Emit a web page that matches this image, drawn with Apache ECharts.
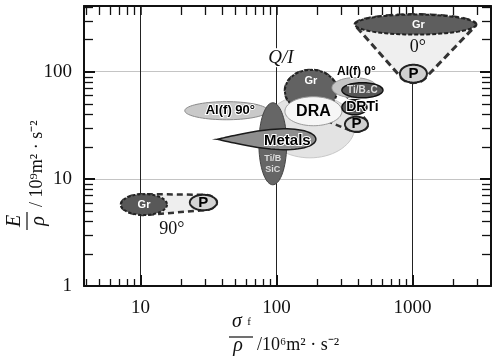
<!DOCTYPE html>
<html>
<head>
<meta charset="utf-8">
<script src="https://cdn.jsdelivr.net/npm/echarts@6/dist/echarts.min.js"></script>
<style>
  html, body { margin: 0; padding: 0; background: #fff; }
  #chart { width: 499px; height: 363px; }
</style>
</head>
<body>
<div id="chart"></div>
<script>
// axis extents: specific strength (x) and specific stiffness (y)
const xMin = 3.85, xMax = 3780;
const yMin = 1, yMax = 410;

const xMinorTicks = [4, 5, 6, 7, 8, 9, 20, 30, 40, 50, 60, 70, 80, 90, 200, 300, 400, 500, 600, 700, 800, 900, 2000, 3000];
const yMinorTicks = [2, 3, 4, 5, 6, 7, 8, 9, 20, 30, 40, 50, 60, 70, 80, 90, 200, 300, 400];

// material families, in drawing order
const familyNames  = ['Gr', 'P', 'Al(f) 90°', '', 'Gr', 'DRA', 'Al(f) 0°', 'Ti/B₄C', 'DRTi', 'P', 'Ti/B\nSiC', 'Metals', 'Gr', 'P'];
const strengthLow  = [7.2, 23.1, 21.2, 82.3, 115.5, 115.5, 256, 303, 303, 319, 74.3, 36.5, 378, 809];
const strengthHigh = [15.7, 36.5, 86.6, 378, 279, 303, 548, 607, 463, 471, 119, 195, 2930, 1278];
const stiffLow     = [4.6, 5.1, 35.6, 15.7, 42.3, 31.3, 57.1, 57.1, 39.6, 27.5, 8.8, 18.7, 222, 79];
const stiffHigh    = [7.2, 7.1, 52.5, 61, 104, 58.4, 87.9, 78.9, 54.7, 38, 51.3, 29.3, 341, 116];

// dashed envelopes around fibre-direction families (member indices)
const hullGroups = [[0, 1], [4, 9], [12, 13]];

// text notes on the chart
const noteTexts = ['Q/I', '0°', '90°'];
const noteX = [108, 1097, 17];
const noteY = [135, 168, 3.41];

const serif = "'Liberation Serif', 'Times New Roman', serif";
const sans = "'Liberation Sans', Arial, sans-serif";

const familyStyles = [
  { fill: '#585858', stroke: '#222', lw: 2, dash: [3, 2], color: '#fff', font: 'bold 11px' },
  { fill: '#d4d4d4', stroke: '#222', lw: 2, color: '#000', font: 'bold 15px' },
  { fill: '#c9c9c9', stroke: '#8a8a8a', lw: 1, color: '#000', font: 'bold 13px', dx: 4, halo: true },
  { fill: '#e3e3e3', stroke: '#c8c8c8', lw: 1 },
  { fill: '#626262', stroke: '#222', lw: 2, dash: [3, 2], color: '#fff', font: 'bold 11px', dy: -10 },
  { fill: '#f6f6f6', stroke: '#9a9a9a', lw: 1, color: '#000', font: 'bold 16px' },
  { fill: '#c6c6c6', stroke: '#999', lw: 1, color: '#000', font: 'bold 12px', dx: 2, dy: -16, halo: true },
  { fill: '#555', stroke: '#111', lw: 1.5, color: '#ddd', font: 'bold 10px' },
  { fill: '#5a5a5a', stroke: '#111', lw: 1.5, color: '#000', font: 'bold 14px', dx: 8, halo: true },
  { fill: '#cfcfcf', stroke: '#222', lw: 2, color: '#000', font: 'bold 15px' },
  { fill: '#666', stroke: '#444', lw: 1, color: '#ddd', font: 'bold 9px', dy: 20 },
  { fill: '#8e8e8e', stroke: '#1a1a1a', lw: 1.5, color: '#000', font: 'bold 15px', dx: 21, dy: 2, halo: true, shape: 'tear' },
  { fill: '#5e5e5e', stroke: '#222', lw: 2, dash: [4, 2], color: '#fff', font: 'bold 11px', dx: 3 },
  { fill: '#d0d0d0', stroke: '#222', lw: 2, color: '#000', font: 'bold 15px' },
];
const hullStyles = [
  { fill: '#eeeeee', stroke: '#333', lw: 2.5, dash: [6, 4] },
  { fill: 'none', stroke: '#333', lw: 2.5, dash: [6, 4] },
  { fill: '#efefef', stroke: '#333', lw: 3, dash: [7, 4] },
];
const noteFonts = ['italic 19px', '18px', '18px'];

function isPow10(v) {
  const l = Math.log10(v);
  return Math.abs(l - Math.round(l)) < 1e-6;
}

// every hull goes just before its first member
const drawList = [];
familyNames.forEach((n, i) => {
  hullGroups.forEach((g, h) => { if (g[0] === i) drawList.push({ kind: 'hull', idx: h }); });
  drawList.push({ kind: 'bubble', idx: i });
});

function pixelBox(api, i) {
  const a = api.coord([strengthLow[i], stiffHigh[i]]);
  const b = api.coord([strengthHigh[i], stiffLow[i]]);
  return { cx: (a[0] + b[0]) / 2, cy: (a[1] + b[1]) / 2, rx: (b[0] - a[0]) / 2, ry: (b[1] - a[1]) / 2 };
}

function outline(bx, shape) {
  const pts = [];
  const n = 72;
  for (let k = 0; k < n; k++) {
    const t = 2 * Math.PI * k / n;
    let f = 1;
    if (shape === 'tear') f = 1.35 * Math.pow((1 + Math.cos(t)) / 2, 0.6);
    pts.push([bx.cx + bx.rx * Math.cos(t), bx.cy + bx.ry * Math.sin(t) * f]);
  }
  return pts;
}

function convexHull(pts) {
  pts = pts.slice().sort((a, b) => a[0] - b[0] || a[1] - b[1]);
  const cross = (o, a, b) => (a[0] - o[0]) * (b[1] - o[1]) - (a[1] - o[1]) * (b[0] - o[0]);
  const lower = [], upper = [];
  for (const p of pts) {
    while (lower.length >= 2 && cross(lower[lower.length - 2], lower[lower.length - 1], p) <= 0) lower.pop();
    lower.push(p);
  }
  for (let i = pts.length - 1; i >= 0; i--) {
    const p = pts[i];
    while (upper.length >= 2 && cross(upper[upper.length - 2], upper[upper.length - 1], p) <= 0) upper.pop();
    upper.push(p);
  }
  upper.pop();
  lower.pop();
  return lower.concat(upper);
}

function renderRegion(params, api) {
  const d = drawList[params.dataIndex];
  if (d.kind === 'hull') {
    let pts = [];
    hullGroups[d.idx].forEach((i) => { pts = pts.concat(outline(pixelBox(api, i), familyStyles[i].shape)); });
    const s = hullStyles[d.idx];
    return {
      type: 'polygon',
      shape: { points: convexHull(pts) },
      style: { fill: s.fill, stroke: s.stroke, lineWidth: s.lw, lineDash: s.dash },
    };
  }
  const i = d.idx;
  const s = familyStyles[i];
  const bx = pixelBox(api, i);
  const children = [{
    type: 'polygon',
    shape: { points: outline(bx, s.shape) },
    style: { fill: s.fill, stroke: s.stroke, lineWidth: s.lw, lineDash: s.dash || null },
  }];
  if (familyNames[i]) {
    children.push({
      type: 'text',
      x: bx.cx + (s.dx || 0),
      y: bx.cy + (s.dy || 0),
      style: {
        text: familyNames[i],
        fill: s.color,
        font: s.font + ' ' + sans,
        align: 'center',
        verticalAlign: 'middle',
        stroke: s.halo ? '#fff' : null,
        lineWidth: s.halo ? 2 : 0,
        lineHeight: 11,
      },
    });
  }
  return { type: 'group', children: children };
}

const chart = echarts.init(document.getElementById('chart'), null, { renderer: 'canvas' });

const axisLineStyle = { color: '#111', width: 2 };

const option = {
  backgroundColor: '#fff',
  animation: false,
  grid: { left: 84, right: 8, top: 6, bottom: 77, containLabel: false },
  xAxis: [
    {
      type: 'log', logBase: 10, min: xMin, max: xMax, position: 'bottom',
      axisLine: { lineStyle: axisLineStyle },
      axisTick: { inside: true, length: 11, lineStyle: { color: '#111', width: 2 } },
      axisLabel: {
        formatter: (v) => (isPow10(v) ? String(Math.round(v)) : ''),
        color: '#111', fontFamily: serif, fontSize: 19, margin: 13,
      },
      splitLine: { show: true, lineStyle: { color: '#222', width: 1 } },
    },
    {
      type: 'log', logBase: 10, min: xMin, max: xMax, position: 'top',
      axisLine: { lineStyle: axisLineStyle },
      axisTick: { inside: true, length: 9, lineStyle: { color: '#111', width: 1.5 } },
      axisLabel: { show: false },
      splitLine: { show: false },
    },
  ],
  yAxis: [
    {
      type: 'log', logBase: 10, min: yMin, max: yMax, position: 'left',
      axisLine: { lineStyle: axisLineStyle },
      axisTick: { inside: true, length: 11, lineStyle: { color: '#111', width: 2 } },
      axisLabel: {
        formatter: (v) => (isPow10(v) ? String(Math.round(v)) : ''),
        color: '#111', fontFamily: serif, fontSize: 19, margin: 12,
      },
      splitLine: { show: true, lineStyle: { color: '#c4c4c4', width: 1 } },
    },
    {
      type: 'log', logBase: 10, min: yMin, max: yMax, position: 'right',
      axisLine: { lineStyle: axisLineStyle },
      axisTick: { inside: true, length: 11, lineStyle: { color: '#111', width: 2 } },
      axisLabel: { show: false },
      splitLine: { show: false },
    },
  ],
  series: [
    {
      // minor ticks along bottom and top
      type: 'custom', coordinateSystem: 'cartesian2d', silent: true, z: 1,
      data: xMinorTicks.map((v) => [v, yMin]),
      encode: { x: 0, y: 1 },
      renderItem: (params, api) => {
        const cs = params.coordSys;
        const px = Math.round(api.coord([api.value(0), yMin])[0]) + 0.5;
        const y1 = cs.y + cs.height;
        return {
          type: 'group',
          children: [
            { type: 'line', shape: { x1: px, y1: y1, x2: px, y2: y1 - 7 }, style: { stroke: '#111', lineWidth: 1.3 } },
            { type: 'line', shape: { x1: px, y1: cs.y, x2: px, y2: cs.y + 9 }, style: { stroke: '#111', lineWidth: 1.3 } },
          ],
        };
      },
    },
    {
      // minor ticks along left and right
      type: 'custom', coordinateSystem: 'cartesian2d', silent: true, z: 1,
      data: yMinorTicks.map((v) => [xMin, v]),
      encode: { x: 0, y: 1 },
      renderItem: (params, api) => {
        const cs = params.coordSys;
        const py = Math.round(api.coord([xMin, api.value(1)])[1]) + 0.5;
        const x1 = cs.x + cs.width;
        return {
          type: 'group',
          children: [
            { type: 'line', shape: { x1: cs.x, y1: py, x2: cs.x + 9, y2: py }, style: { stroke: '#111', lineWidth: 1.3 } },
            { type: 'line', shape: { x1: x1, y1: py, x2: x1 - 9, y2: py }, style: { stroke: '#111', lineWidth: 1.3 } },
          ],
        };
      },
    },
    {
      type: 'custom', coordinateSystem: 'cartesian2d', silent: true, z: 3,
      data: drawList.map((d) => {
        const i = d.kind === 'hull' ? hullGroups[d.idx][0] : d.idx;
        return [strengthLow[i], strengthHigh[i], stiffLow[i], stiffHigh[i]];
      }),
      encode: { x: [0, 1], y: [2, 3] },
      renderItem: renderRegion,
    },
    {
      type: 'custom', coordinateSystem: 'cartesian2d', silent: true, z: 4,
      data: noteTexts.map((t, i) => [noteX[i], noteY[i]]),
      encode: { x: 0, y: 1 },
      renderItem: (params, api) => {
        const p = api.coord([api.value(0), api.value(1)]);
        const i = params.dataIndex;
        return {
          type: 'text', x: p[0], y: p[1],
          style: {
            text: noteTexts[i], fill: '#111', font: noteFonts[i] + ' ' + serif,
            align: 'center', verticalAlign: 'middle',
            backgroundColor: i === 0 ? '#fff' : null, padding: i === 0 ? [0, 1] : 0,
          },
        };
      },
    },
  ],
  graphic: [
    // x axis title: sigma_f / rho
    { type: 'text', x: 237, y: 322, style: { text: 'σ', font: 'italic 20px ' + serif, fill: '#111', align: 'center', verticalAlign: 'middle' } },
    { type: 'text', x: 249, y: 322, style: { text: 'f', font: '11px ' + serif, fill: '#111', align: 'center', verticalAlign: 'middle' } },
    { type: 'line', shape: { x1: 229, y1: 337, x2: 253, y2: 337 }, style: { stroke: '#111', lineWidth: 1.2 } },
    { type: 'text', x: 238, y: 346, style: { text: 'ρ', font: 'italic 20px ' + serif, fill: '#111', align: 'center', verticalAlign: 'middle' } },
    { type: 'text', x: 257, y: 345, style: { text: '/10⁶m² · s⁻²', font: '18px ' + serif, fill: '#111', align: 'left', verticalAlign: 'middle' } },
    // y axis title: E / rho, read bottom to top
    {
      type: 'group', x: 27, y: 221, rotation: Math.PI / 2,
      children: [
        { type: 'text', x: 0, y: -12, style: { text: 'E', font: 'italic 20px ' + serif, fill: '#111', align: 'center', verticalAlign: 'middle' } },
        { type: 'line', shape: { x1: -9, y1: 0, x2: 9, y2: 0 }, style: { stroke: '#111', lineWidth: 1.2 } },
        { type: 'text', x: 0, y: 12, style: { text: 'ρ', font: 'italic 20px ' + serif, fill: '#111', align: 'center', verticalAlign: 'middle' } },
        { type: 'text', x: 14, y: 10, style: { text: '/ 10⁹m² · s⁻²', font: '18px ' + serif, fill: '#111', align: 'left', verticalAlign: 'middle' } },
      ],
    },
  ],
};

chart.setOption(option);
window.addEventListener('resize', chart.resize);
</script>
</body>
</html>
